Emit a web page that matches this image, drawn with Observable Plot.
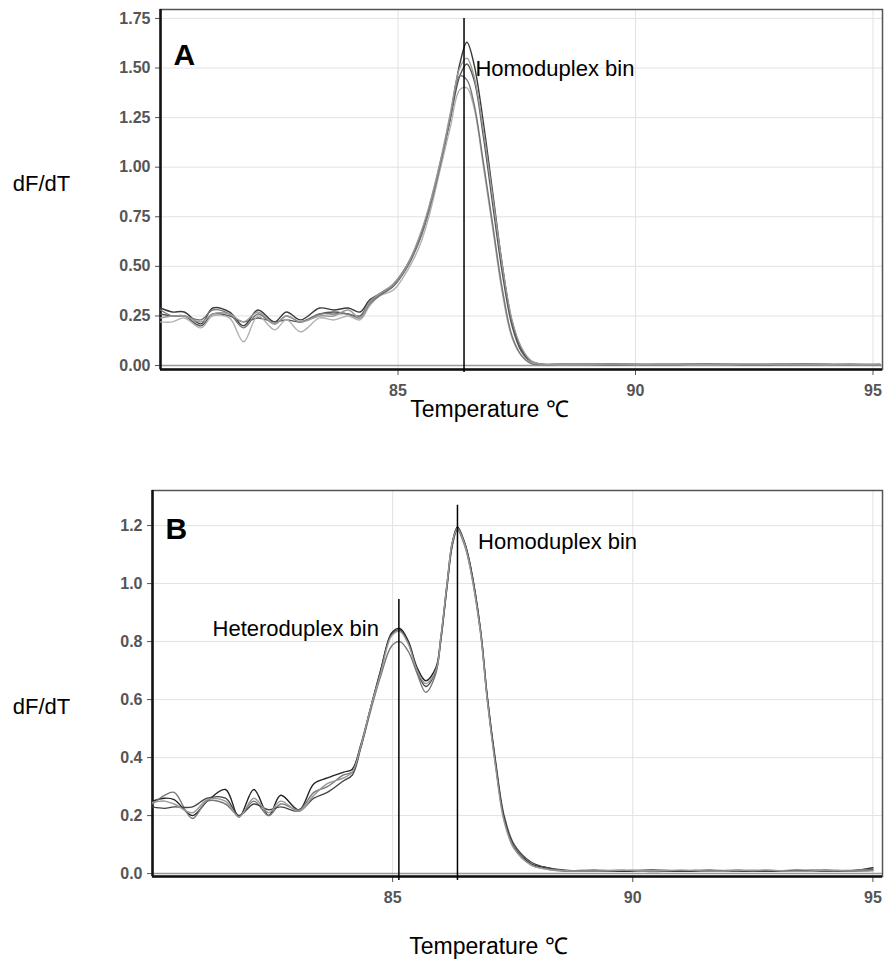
<!DOCTYPE html>
<html>
<head>
<meta charset="utf-8">
<script src="https://cdn.jsdelivr.net/npm/d3@7"></script>
<script src="https://cdn.jsdelivr.net/npm/@observablehq/plot@0.6"></script>
<style>
  html, body { margin: 0; padding: 0; background: #fff; }
  #chart { width: 886px; }
  #chart svg { display: block; }
</style>
</head>
<body>
<div id="chart"></div>
<script>
// ---------- Panel A data ----------
const tempA = [80.0, 80.25, 80.5, 80.85, 81.1, 81.45, 81.75, 82.05, 82.4, 82.65, 82.95, 83.35, 83.65, 83.95, 84.2, 84.4, 84.6, 84.9,
  85.2, 85.45, 85.65, 85.9, 86.1, 86.3, 86.45, 86.6, 86.8, 87.0, 87.2, 87.4, 87.6, 87.8, 88.0,
  88.5, 89.5, 90.5, 91.5, 92.5, 93.5, 94.5, 95.15];
const curveA1 = [0.29, 0.27, 0.27, 0.21, 0.29, 0.27, 0.20, 0.28, 0.22, 0.27, 0.23, 0.29, 0.28, 0.29, 0.27, 0.33, 0.36, 0.41,
  0.51, 0.64, 0.79, 1.03, 1.25, 1.52, 1.63, 1.52, 1.22, 0.86, 0.50, 0.22, 0.08, 0.02, 0.008,
  0.005, 0.008, 0.004, 0.007, 0.005, 0.008, 0.004, 0.006];
const curveA2 = [0.26, 0.25, 0.25, 0.20, 0.26, 0.25, 0.22, 0.24, 0.22, 0.23, 0.22, 0.26, 0.27, 0.26, 0.25, 0.32, 0.355, 0.40,
  0.50, 0.63, 0.78, 1.03, 1.24, 1.46, 1.52, 1.44, 1.15, 0.80, 0.46, 0.20, 0.07, 0.02, 0.006,
  0.006, 0.004, 0.007, 0.005, 0.006, 0.004, 0.007, 0.005];
const curveA3 = [0.22, 0.22, 0.24, 0.19, 0.25, 0.24, 0.12, 0.25, 0.18, 0.23, 0.17, 0.24, 0.23, 0.25, 0.23, 0.30, 0.35, 0.38,
  0.48, 0.60, 0.75, 1.00, 1.20, 1.39, 1.40, 1.30, 1.00, 0.68, 0.36, 0.14, 0.05, 0.015, 0.005,
  0.004, 0.006, 0.005, 0.004, 0.006, 0.005, 0.004, 0.005];
const curveA4 = [0.28, 0.25, 0.25, 0.23, 0.28, 0.26, 0.19, 0.26, 0.21, 0.25, 0.22, 0.26, 0.26, 0.26, 0.24, 0.31, 0.35, 0.40,
  0.50, 0.63, 0.78, 1.02, 1.25, 1.46, 1.44, 1.32, 1.02, 0.70, 0.38, 0.15, 0.05, 0.01, 0.004,
  0.007, 0.005, 0.006, 0.008, 0.004, 0.006, 0.005, 0.004];
const curveA5 = [0.24, 0.25, 0.25, 0.22, 0.26, 0.26, 0.22, 0.27, 0.21, 0.25, 0.22, 0.25, 0.25, 0.28, 0.24, 0.32, 0.36, 0.41,
  0.51, 0.65, 0.80, 1.04, 1.27, 1.50, 1.55, 1.46, 1.18, 0.84, 0.50, 0.23, 0.09, 0.025, 0.008,
  0.005, 0.007, 0.005, 0.006, 0.007, 0.005, 0.006, 0.005];
const colorsA = ["#3a3a3a", "#555555", "#b0b0b0", "#777777", "#999999"];
const yTicksA = [0, 0.25, 0.5, 0.75, 1.0, 1.25, 1.5, 1.75];
const binA = [86.39];

// ---------- Panel B data ----------
const tempB = [80.0, 80.25, 80.45, 80.83, 81.14, 81.52, 81.8, 82.11, 82.42, 82.67, 83.05, 83.36, 83.64, 83.98, 84.16, 84.33,
  84.54, 84.75, 84.98, 85.15, 85.33, 85.51, 85.69, 85.9, 86.0, 86.14, 86.24, 86.35, 86.5, 86.62, 86.83, 86.97, 87.15, 87.32, 87.53, 87.88, 88.22,
  88.6, 89.2, 89.8, 90.4, 91.0, 91.6, 92.2, 92.8, 93.4, 94.0, 94.6, 95.0];
const curveB1 = [0.25, 0.26, 0.255, 0.20, 0.25, 0.29, 0.195, 0.29, 0.20, 0.27, 0.22, 0.31, 0.33, 0.35, 0.36, 0.44,
  0.57, 0.70, 0.83, 0.845, 0.80, 0.71, 0.665, 0.71, 0.81, 1.01, 1.14, 1.195, 1.14, 1.06, 0.84, 0.61, 0.37, 0.19, 0.09, 0.034, 0.02,
  0.01, 0.012, 0.008, 0.012, 0.009, 0.012, 0.008, 0.011, 0.009, 0.012, 0.01, 0.02];
const curveB2 = [0.24, 0.27, 0.28, 0.19, 0.25, 0.24, 0.20, 0.25, 0.20, 0.24, 0.22, 0.28, 0.30, 0.34, 0.35, 0.43,
  0.56, 0.68, 0.785, 0.80, 0.765, 0.69, 0.625, 0.69, 0.80, 1.00, 1.13, 1.185, 1.13, 1.05, 0.83, 0.60, 0.37, 0.19, 0.09, 0.03, 0.015,
  0.008, 0.01, 0.012, 0.007, 0.011, 0.008, 0.012, 0.009, 0.011, 0.008, 0.012, 0.015];
const curveB3 = [0.23, 0.225, 0.23, 0.23, 0.26, 0.26, 0.20, 0.24, 0.22, 0.23, 0.215, 0.26, 0.28, 0.32, 0.34, 0.43,
  0.57, 0.70, 0.825, 0.84, 0.795, 0.70, 0.645, 0.70, 0.80, 1.00, 1.13, 1.19, 1.14, 1.06, 0.84, 0.61, 0.38, 0.20, 0.10, 0.04, 0.02,
  0.012, 0.008, 0.01, 0.012, 0.008, 0.01, 0.011, 0.008, 0.012, 0.01, 0.008, 0.012];
const curveB4 = [0.245, 0.25, 0.24, 0.21, 0.255, 0.25, 0.195, 0.26, 0.21, 0.25, 0.215, 0.27, 0.31, 0.33, 0.35, 0.435,
  0.57, 0.69, 0.82, 0.835, 0.79, 0.70, 0.655, 0.70, 0.81, 1.01, 1.14, 1.19, 1.135, 1.05, 0.83, 0.60, 0.36, 0.18, 0.085, 0.03, 0.015,
  0.01, 0.009, 0.011, 0.01, 0.012, 0.009, 0.01, 0.012, 0.008, 0.011, 0.009, 0.01];
const colorsB = ["#222222", "#777777", "#444444", "#999999"];
const yTicksB = [0, 0.2, 0.4, 0.6, 0.8, 1.0, 1.2];
const heteroBinB = [85.13];
const homoBinB = [86.35];

const xTicks = [85, 90, 95];
const xGrid = [85, 90, 95];

function rows(temps, series) {
  const out = [];
  series.forEach((vals, s) => vals.forEach((v, i) => out.push({t: temps[i], v, s})));
  return out;
}

const FONT = "'Liberation Sans', Arial, Helvetica, sans-serif";

function panel(o) {
  const data = rows(o.temps, o.series);
  const marks = [
    Plot.gridY(o.yTicks, {stroke: "#e2e2e2", strokeOpacity: 1}),
    Plot.gridX(o.xGrid, {stroke: "#e2e2e2", strokeOpacity: 1}),
    Plot.axisY(o.yTicks, {tickSize: 5, tickPadding: 5, tickFormat: o.fmt, fontSize: 16, fontWeight: "bold", color: "#555", label: null}),
    Plot.axisX(xTicks, {tickSize: 6, tickPadding: 9, fontSize: 16, fontWeight: "bold", color: "#555", label: null}),
    Plot.frame({stroke: "#555", strokeWidth: 1.5}),
    Plot.ruleY([0], {stroke: "#999", strokeWidth: 1.5}),
    Plot.ruleX([o.xDomain[0]], {stroke: "#111", strokeWidth: 2.5}),
    Plot.ruleY([o.yDomain[0]], {stroke: "#111", strokeWidth: 2.5}),
    Plot.line(data, {x: "t", y: "v", z: "s", stroke: d => o.colors[d.s], strokeWidth: 1.4, curve: "catmull-rom"}),
    ...o.bins.map(b => Plot.ruleX(b.x, {y1: b.y1, y2: b.y2, stroke: "#000", strokeWidth: 1.5})),
    ...o.notes.map(n => Plot.text([n.text], {x: n.x, y: n.y, textAnchor: "start", fontSize: 22, fill: "#000"})),
    Plot.text([o.letter], {frameAnchor: "top-left", dx: 13, dy: o.letterDy, textAnchor: "start", fontSize: 30, fontWeight: "bold", fill: "#000"}),
    Plot.text(["dF/dT"], {frameAnchor: "left", dx: o.ylabDx, dy: o.ylabDy, textAnchor: "middle", fontSize: 22, fill: "#000"}),
    Plot.text(["Temperature \u2103"], {frameAnchor: "bottom", dx: o.xlabDx, dy: o.xlabDy, textAnchor: "middle", fontSize: 23, fill: "#000"})
  ];
  return Plot.plot({
    width: 886,
    height: 483,
    marginLeft: o.marginLeft,
    marginRight: 4,
    marginTop: o.marginTop,
    marginBottom: o.marginBottom,
    style: {fontFamily: FONT, background: "#fff", overflow: "visible"},
    x: {domain: o.xDomain},
    y: {domain: o.yDomain},
    marks
  });
}

const chart = document.getElementById("chart");

chart.appendChild(panel({
  temps: tempA,
  series: [curveA1, curveA2, curveA3, curveA4, curveA5],
  colors: colorsA,
  yTicks: yTicksA,
  fmt: d3.format(".2f"),
  xGrid,
  xDomain: [80, 95.2],
  yDomain: [-0.02, 1.795],
  marginLeft: 160,
  marginTop: 9,
  marginBottom: 114,
  bins: [{x: binA, y1: -0.035, y2: 1.75}],
  notes: [{text: "Homoduplex bin", x: 86.63, y: 1.495}],
  letter: "A",
  letterDy: 34,
  ylabDx: -119,
  ylabDy: -6,
  xlabDx: -32,
  xlabDy: 47
}));

chart.appendChild(panel({
  temps: tempB,
  series: [curveB1, curveB2, curveB3, curveB4],
  colors: colorsB,
  yTicks: yTicksB,
  fmt: d3.format(".1f"),
  xGrid,
  xDomain: [80, 95.2],
  yDomain: [-0.01, 1.321],
  marginLeft: 152,
  marginTop: 7,
  marginBottom: 90,
  bins: [{x: heteroBinB, y1: -0.024, y2: 0.945}, {x: homoBinB, y1: -0.024, y2: 1.27}],
  notes: [{text: "Heteroduplex bin", x: 81.25, y: 0.845}, {text: "Homoduplex bin", x: 86.78, y: 1.145}],
  letter: "B",
  letterDy: 27,
  ylabDx: -111,
  ylabDy: 23,
  xlabDx: -29,
  xlabDy: 77
}));
</script>
</body>
</html>
